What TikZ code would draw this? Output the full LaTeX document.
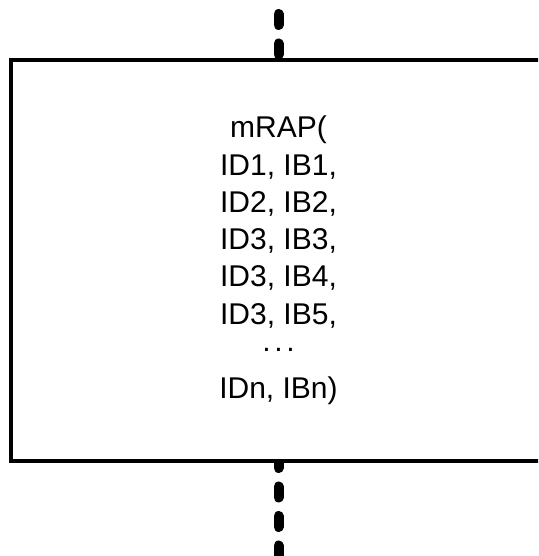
\documentclass[tikz,border=0pt]{standalone}
\usepackage{fontspec}
\setmainfont{Liberation Sans}
\usetikzlibrary{backgrounds}

\tikzset{
  block/.style={draw, line width=3.3pt, fill=white, inner sep=0pt, outer sep=0pt,
    minimum width=535pt, minimum height=401pt, align=center,
    font=\fontsize{30}{37.3}\selectfont},
  link/.style={line width=10pt, line cap=round, dash pattern=on 11pt off 18.5pt}
}
% dots sitting at mid height
\newcommand{\middots}{\raisebox{0.33em}{.\kern3.7pt.\kern3.7pt.}}

\begin{document}
\begin{tikzpicture}[x=1pt,y=1pt]
  \clip (0,0) rectangle (538,556);
  \node[block] (blk) at (278.5,295.5) {mRAP(\\ID1, IB1,\\ID2, IB2,\\ID3, IB3,\\ID3, IB4,\\ID3, IB5,\\\middots\\IDn, IBn)};
  \coordinate (in) at (278.5,556);
  \coordinate (out) at (278.5,0);
  \begin{scope}[on background layer]
    \draw[link, dash phase=15.5pt] (in) -- (blk.north);
    \draw[link, dash phase=4pt] (blk.south) -- (out);
  \end{scope}
\end{tikzpicture}
\end{document}
